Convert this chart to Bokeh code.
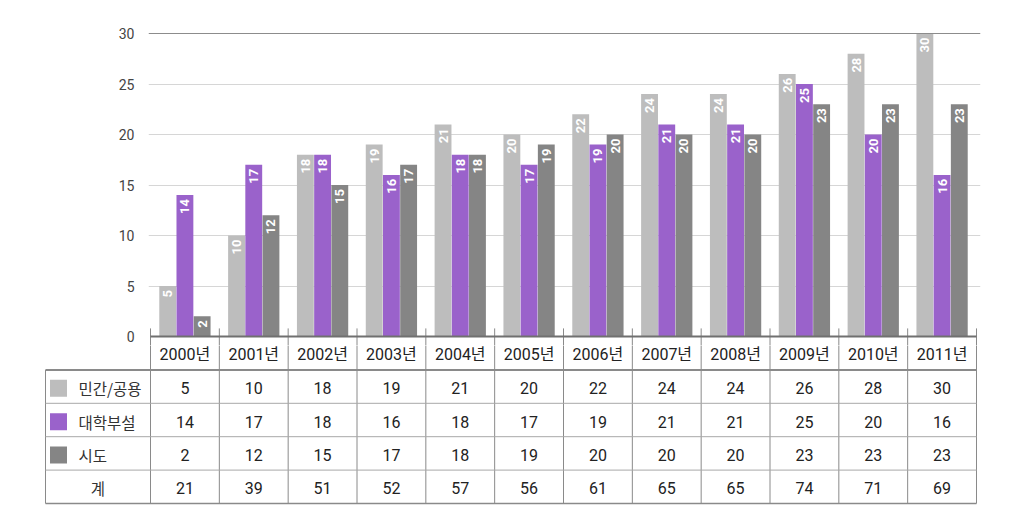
from bokeh.plotting import figure
from bokeh.models import Range1d, FixedTicker, Span, ColumnDataSource
from bokeh.layouts import column
from bokeh.core.properties import value
from bokeh.embed import file_html
from bokeh.resources import INLINE

years = ["2000년", "2001년", "2002년", "2003년", "2004년", "2005년",
         "2006년", "2007년", "2008년", "2009년", "2010년", "2011년"]
series_names = ["민간/공용", "대학부설", "시도"]
private_public = [5, 10, 18, 19, 21, 20, 22, 24, 24, 26, 28, 30]
university = [14, 17, 18, 16, 18, 17, 19, 21, 21, 25, 20, 16]
provincial = [2, 12, 15, 17, 18, 19, 20, 20, 20, 23, 23, 23]
totals = [21, 39, 51, 52, 57, 56, 61, 65, 65, 74, 71, 69]
total_label = "계"
y_ticks = [0, 5, 10, 15, 20, 25, 30]

colors = ["#bdbdbd", "#9a62cb", "#858585"]
series = [private_public, university, provincial]
offsets = [-0.25, 0.0, 0.25]
bar_w = 0.245

NUM_FONT = "Roboto, 'Noto Sans CJK KR'"
KR_FONT = "'Noto Sans CJK KR'"

W = 1024
col_px = 826 / 12.0
ppu = 10.1  # px per unit on value axis
n = len(years)

# ---------------- chart ----------------
c_left, c_right, c_top, c_bottom = 148, 980, 30, 345
p = figure(width=W, height=c_bottom, output_backend="svg", toolbar_location=None,
           x_range=Range1d(-(150 - c_left) / col_px, n + (c_right - 976) / col_px),
           y_range=Range1d(-(c_bottom - 336) / ppu, 30 + (33 - c_top) / ppu),
           x_axis_location=None, min_border_left=c_left, min_border_right=W - c_right,
           min_border_top=c_top, min_border_bottom=0)
p.outline_line_color = None
p.xgrid.visible = False
p.ygrid.ticker = FixedTicker(ticks=y_ticks[1:-1])
p.ygrid.grid_line_color = "#d6d6d6"
p.yaxis.ticker = FixedTicker(ticks=y_ticks)
p.yaxis.axis_line_color = None
p.yaxis.major_tick_line_color = None
p.yaxis.minor_tick_line_color = None
p.yaxis.major_label_standoff = 8
p.yaxis.major_label_text_font = NUM_FONT
p.yaxis.major_label_text_font_size = "14px"
p.yaxis.major_label_text_color = "#444444"
p.add_layout(Span(location=y_ticks[-1], dimension="width", line_color="#8c8c8c", line_width=1.2))

xs_center = [i + 0.5 for i in range(n)]
for s, vals in enumerate(series):
    src = ColumnDataSource(dict(x=[c + offsets[s] for c in xs_center], top=vals,
                                lbl=[str(v) for v in vals]))
    p.vbar(x="x", top="top", bottom=0, width=bar_w, source=src,
           fill_color=colors[s], line_color=None)
    p.text(x="x", y="top", text="lbl", source=src, angle=1.5708,
           text_align="right", text_baseline="middle", y_offset=4,
           text_color="white", text_font=value(NUM_FONT), text_font_style="bold",
           text_font_size="13px")

# axis line and ticks at column boundaries
bounds = list(range(n + 1))
p.segment(x0=bounds, x1=bounds, y0=[-3] * len(bounds), y1=[0.8] * len(bounds),
          line_color="#8a8a8a", line_width=1)
p.segment(x0=[0], x1=[n], y0=[0], y1=[0], line_color="#707070", line_width=2.2)

# ---------------- table ----------------
t_left, t_right = 42, 980
rpu = 33.4
t_top = c_bottom
t_h = 523 - t_top
t = figure(width=W, height=t_h, output_backend="svg", toolbar_location=None,
           x_range=Range1d(-(150 - t_left) / col_px, n + (t_right - 976) / col_px),
           y_range=Range1d(-(523 - 503) / rpu, 5 - (t_top - 336) / rpu),
           x_axis_location=None, y_axis_location=None,
           min_border_left=t_left, min_border_right=W - t_right,
           min_border_top=0, min_border_bottom=0)
t.outline_line_color = None
t.xgrid.visible = False
t.ygrid.visible = False

for fig in (p, t):
    try:
        fig.frame_align = False
    except Exception:
        pass

lab_left = -(150 - 45) / col_px
# vertical column lines
t.segment(x0=bounds, x1=bounds, y0=[0] * len(bounds), y1=[6] * len(bounds),
          line_color="#8a8a8a", line_width=1)
t.segment(x0=[lab_left], x1=[lab_left], y0=[0], y1=[4], line_color="#8a8a8a", line_width=1)
# horizontal lines
t.segment(x0=[lab_left] * 3, x1=[n] * 3, y0=[3, 2, 1], y1=[3, 2, 1],
          line_color="#a8a8a8", line_width=1)
t.segment(x0=[lab_left], x1=[n], y0=[4], y1=[4], line_color="#8a8a8a", line_width=2)
t.segment(x0=[lab_left], x1=[n], y0=[0], y1=[0], line_color="#8a8a8a", line_width=1.5)

# header
t.text(x=xs_center, y=[4.45] * n, text=years, text_align="center", text_baseline="middle",
       text_color="#222222", text_font=value(NUM_FONT), text_font_size="16px")

rows = series + [totals]
row_y = [3.45, 2.45, 1.45, 0.45]
for r, vals in enumerate(rows):
    t.text(x=xs_center, y=[row_y[r]] * n, text=[str(v) for v in vals],
           text_align="center", text_baseline="middle", text_color="#222222",
           text_font=value(NUM_FONT), text_font_size="16px")

# legend squares and labels
sq_x = lab_left + 13 / col_px
t.scatter(x=[sq_x] * 3, y=row_y[:3], marker="square", size=17, fill_color=colors,
          line_color=None)
t.text(x=[lab_left + 33 / col_px] * 3, y=row_y[:3], text=series_names,
       text_align="left", text_baseline="middle", text_color="#333333",
       text_font=value(KR_FONT), text_font_size="15.5px")
t.text(x=[lab_left / 2], y=[row_y[3]], text=[total_label], text_align="center",
       text_baseline="middle", text_color="#333333", text_font=value(KR_FONT),
       text_font_size="15.5px")

layout = column(p, t, spacing=0)
open("out.html", "w").write(file_html(layout, INLINE))
